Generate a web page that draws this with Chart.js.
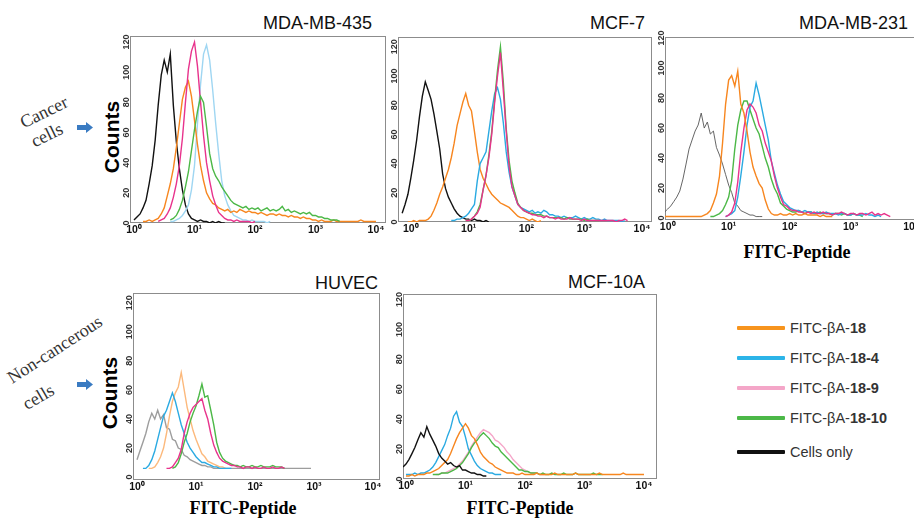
<!DOCTYPE html>
<html>
<head>
<meta charset="utf-8">
<script src="https://cdn.jsdelivr.net/npm/chart.js@4.4.1/dist/chart.umd.min.js"></script>
<style>
  html, body { margin: 0; padding: 0; background: #fff; }
  #fig { position: relative; width: 914px; height: 518px; overflow: hidden; background: #fff; }
  #fig canvas { position: absolute; }
  .title { position: absolute; font: 18px "Liberation Sans", Arial, sans-serif; line-height: 22px; color: #111; white-space: nowrap; }
  .counts { position: absolute; font: bold 21px "Liberation Sans", Arial, sans-serif; color: #000; white-space: nowrap;
            transform: translate(-50%, -50%) rotate(-90deg); }
  .xtitle { position: absolute; font: bold 18px "Liberation Serif", "Times New Roman", serif; color: #000; white-space: nowrap;
            transform: translate(-50%, -50%); }
  .note { position: absolute; font: 18px "Liberation Serif", "Times New Roman", serif; line-height: 18px; color: #333;
          white-space: nowrap; transform-origin: 0 50%; }
  .leg { position: absolute; font: 14.5px "Liberation Sans", Arial, sans-serif; color: #333; white-space: nowrap; line-height: 16px; }
  .leg b { font-weight: bold; }
  .legline { position: absolute; height: 3.5px; border-radius: 1px; }
</style>
</head>
<body>
<div id="fig">
  <div class="title" style="right:542px;top:12px">MDA-MB-435</div>
  <div class="title" style="right:269px;top:12px">MCF-7</div>
  <div class="title" style="right:6px;top:12px">MDA-MB-231</div>
  <div class="title" style="right:536px;top:272px">HUVEC</div>
  <div class="title" style="right:269px;top:271px">MCF-10A</div>

  <div class="counts" style="left:112px;top:137px">Counts</div>
  <div class="counts" style="left:110px;top:393px">Counts</div>

  <div class="xtitle" style="left:797px;top:252px">FITC-Peptide</div>
  <div class="xtitle" style="left:243px;top:508px">FITC-Peptide</div>
  <div class="xtitle" style="left:520px;top:508px">FITC-Peptide</div>

  <div class="note" style="left:21px;top:114px;transform:rotate(-26deg)">Cancer</div>
  <div class="note" style="left:32px;top:133px;transform:rotate(-26deg)">cells</div>
  <div class="note" style="left:9px;top:370px;transform:rotate(-33deg)">Non-cancerous</div>
  <div class="note" style="left:24px;top:396px;transform:rotate(-30deg)">cells</div>

  <svg style="position:absolute;left:77px;top:122px" width="16" height="11"><path d="M0 3 H9 V0 L16 5.5 L9 11 V8 H0 Z" fill="#3a7bc2"/></svg>
  <svg style="position:absolute;left:77px;top:379px" width="16" height="11"><path d="M0 3 H9 V0 L16 5.5 L9 11 V8 H0 Z" fill="#3a7bc2"/></svg>
</div>

<script>
const N = null;

// channel positions, 20 per decade from 10^-0.2 to 10^4
const bins = [0.631, 0.708, 0.794, 0.891,
  1, 1.12, 1.26, 1.41, 1.58, 1.78, 2.00, 2.24, 2.51, 2.82, 3.16, 3.55, 3.98, 4.47, 5.01, 5.62, 6.31, 7.08, 7.94, 8.91,
  10, 11.2, 12.6, 14.1, 15.8, 17.8, 20.0, 22.4, 25.1, 28.2, 31.6, 35.5, 39.8, 44.7, 50.1, 56.2, 63.1, 70.8, 79.4, 89.1,
  100, 112, 126, 141, 158, 178, 200, 224, 251, 282, 316, 355, 398, 447, 501, 562, 631, 708, 794, 891,
  1000, 1120, 1260, 1410, 1580, 1780, 2000, 2240, 2510, 2820, 3160, 3550, 3980, 4470, 5010, 5620, 6310, 7080, 7940, 8910,
  10000];

const xTicks = [1, 10, 100, 1000, 10000];
const xTickLabels = ['10\u2070', '10\u00b9', '10\u00b2', '10\u00b3', '10\u2074'];
const yTicks = [0, 20, 40, 60, 80, 100, 120];

// MDA-MB-435
const mda435Black = [N,N,N,N, 2,4,6,10,15,26,38,55,78,98,108,100,112,78,54,36,22,12,6,3,2,1,2,1,1,0,1,0,1,0,0];
const mda435Orange = [N,N,N,N,N,N,N, 1,1,2,1,2,3,6,
  10,18,26,36,50,66,82,90,94,84,68,52,38,28,20,16,13,12,10,9,
  8,9,7,8,7,9,8,7,8,7,7, 6,7,6,5,6,6,5,6,5,5, 4,5,4,4,3,4,3,3,2,2,
  1,2,1,1,1,2,1,1,1,1,1,1,1,1,2,1,1,1,1,1];
const mda435Pink = [N,N,N,N,N,N,N,N,N,N,N,N, 1,2,
  3,6,10,17,26,38,56,80,102,114,120,104,80,58,40,28,18,12,7,5,3,2, 2,1,2,1,1,1,1,0,1];
const mda435Blue = [N,N,N,N,N,N,N,N,N,N,N,N,N,N,N,N, 1,1,2,3,5,8,
  12,22,38,66,92,112,118,108,88,66,46,28,18,12,8,5,4,3, 2,2,1,2,1,1,1,1,0,1];
const mda435Green = [N,N,N,N,N,N,N,N,N,N,N,N,N,N,N,N,
  2,3,5,9,15,24,34,48,62,74, 84,80,64,46,36,31,28,24,21,18, 15,13,12,11,10,11,9,10,9,10,
  8,9,10,8,9,8,9,11,8,9, 7,8,7,6,7,6,7,5,5,4, 4,3,3,2,2,2,1];

// MCF-7
const mcf7Black = [N, 6,12,19,30,42,56,72,86,96,90,84,74,62,50,33,23,17,13,9,6,4,3,2,2,1,2,1,1,0,1,0];
const mcf7Orange = [N,N,N, 0,0,1,0,1,1,1,
  2,4,8,13,19,24,30,36,44,54, 66,74,82,88,80,76,62,48,36,30, 26,22,19,17,15,13,12,11,10,8, 6,4,3,3,2,1,2,1,0,1];
const mcf7Blue = [N,N,N,N,N,N,N,N,N,N,N,N,N,N,N,N,N,N, 1,1,2,2,3,4,6,9,
  12,28,40,44,48,62,76,88,92,84,68,48,34,24,18,12,10,9,
  8,7,8,6,7,6,8,7,5,5, 4,4,3,4,3,3,3,4,3,2, 3,2,2,3,2,2,1,2,1,1, 1,1,1,0,1];
const mcf7Pink = [N,N,N,N,N,N,N,N,N,N,N,N,N,N,N,N,N,N,N,N,N,N,N,
  1,1,2,4,6,10,22,32,44,60, 82,100,116,90,62,38,24,18,12,10, 8,7,6,5,5,4,4,3,4,3,
  3,2,3,2,2,2,3,2,2,2, 1,2,1,1,1,1,1,1,1,1, 1,1,0,1,1,2,1];
const mcf7Green = [N,N,N,N,N,N,N,N,N,N,N,N,N,N,N,N,N,N,N,N,N,N,N,
  1,1,2,4,7,12,22,32,46,62, 84,104,120,96,64,42,28,20,13,10, 8,7,6,6,5,5,5,4,4,3,
  3,3,3,3,2,3,2,2,2,2, 2,1,2,1,1,1,1];

// MDA-MB-231
const mda231Black = [N,N,N, 4,6,8,11,14,18,26,36,46,52, 58,62,70,60,64,56,58,47,42,36, 29,22,17,10,8,5,4,3,2,2, 1,1,1];
const mda231Orange = [N,N,N, 1,1,1,1,1,1,1,1,1,1,1,1,1,
  2,3,5,10,16,28,50,76,92,95,88,98,76,70,58,44,34,28,23,20,12,6,3,2,
  2,3,2,2,3,2,3,2,2,3,2,2,2,2,1,2,1,1,1];
const mda231Green = [N,N,N,N,N,N,N,N,N,N,N,N,N,N,N,N,N,N,
  1,1,2,3,5,9,14,25,46,62,72,78,78,72,66,60,56,48,40,34,26,20,16,10,8,6,5,
  4,4,5,4,3,4,4,3,3,4,3,3,3,2,3,3,2,3,2,2,3,2,2,1];
const mda231Blue = [N,N,N,N,N,N,N,N,N,N,N,N,N,N,N,N,N,N,N,N,N,N,N,
  1,2,3,5,14,28,44,62,74,78,90,82,72,62,52,38,30,22,16,11,9,7,
  6,5,5,4,5,4,4,3,4,3,3,4,3,3,3,2,3,3,2,2,3,2,2,2,3,2,2,1,2,1];
const mda231Pink = [N,N,N,N,N,N,N,N,N,N,N,N,N,N,N,N,N,N,N,N,N,N,N,
  1,2,4,10,24,44,60,72,76,74,70,62,58,50,44,38,28,20,14,9,8,6,
  5,5,4,4,3,4,3,4,3,3,4,3,3,2,3,3,4,3,2,3,3,2,3,3,2,3,4,2,3,2,3,2,1];

// HUVEC
const huvecBlack = [N,N,N,N,
  12,18,24,30,38,44,40,46,40,43,34,33,26,25,20,19,15,14,12,11,10,9,8,8,7,7,6,6,
  6,6,6,6,6,6,6,6,6,6,6,6,6,6,6,6,6,6,6,6,6,6,6,6,6,6,6,6,6,6,6,6];
const huvecBlue = [N,N,N,N,N,N,
  6,6,8,12,18,26,34,42,46,52,58,52,44,36,30,24,20,17,14,12,10,10,9,8,7,7,6,6,6,6,6];
const huvecOrange = [N,N,N,N,N,N,N,N,
  6,6,7,10,14,20,30,42,52,58,62,72,60,48,40,32,26,21,16,14,11,10,9,8,7,7,6];
const huvecPink = [N,N,N,N,N,N,N,N,N,N,N,N,N,N,
  6,6,7,10,13,19,30,38,44,48,50,52,54,46,40,30,22,17,13,11,10,9,8,8,7,
  7,6,7,7,6,7,6,6,7,6,6,7,6,6,7,6];
const huvecGreen = [N,N,N,N,N,N,N,N,N,N,N,N,N,N,N,N,
  6,7,10,16,24,30,38,44,49,56,64,55,56,46,36,24,17,13,11,10,9,8,8,
  7,8,7,7,8,7,7,8,7,7,7,8,7,7,7,6];

// MCF-10A
const mcf10aBlack = [N,N,N, 8,10,13,17,21,26,31,28,35,30,26,22,17,14,12,10,11,9,8,9,6,6,5,4,4,3,3,2,2];
const mcf10aBlue = [N,N,N,N, 3,3,3,4,3,4,4,5,6,8,11,15,19,23,29,34,42,45,38,35,28,20,16,12,9,7,6,5,4,4,3,3,3];
const mcf10aOrange = [N,N,N,N,
  2,2,3,2,3,3,3,4,4,5,6,7,9,11,13,17,22,27,31,34,37,34,29,27,23,18,15,13,11,10,8,7,6,5,4,4,4,3,3,4,3,
  3,3,3,4,3,3,3,3,3,4,3,3,3,3,3,3,4,3,3,3,3,3,3,3,4,3,3,3,3,3,3,3,4,3,3,3,3,3,3,3];
const mcf10aGreen = [N,N,N,N,N,N,N,N,N,N,N,N,N,
  3,3,3,4,4,4,5,6,7,9,11,14,17,21,24,26,29,31,29,27,24,22,21,18,16,14,12,10,8,6,6,5,
  5,4,4,4,3,4,3,3,4,3,3,3,4,3,3,3,4,3,3,3,3,3,4,3,3,3];
const mcf10aPink = [N,N,N,N,N,N,N,N,N,N,N,N,N,N,
  3,3,4,4,5,6,7,8,10,12,15,18,22,25,28,31,33,32,31,29,26,25,23,21,18,16,13,11,9,7,6,5,4,4,4,3,3,3];

// legend
const legendColors = ['#f7941d', '#2cb4e8', '#f4a6c8', '#4cb848', '#111111'];
const legendLabels = [['FITC-\u03b2A-', '18'], ['FITC-\u03b2A-', '18-4'], ['FITC-\u03b2A-', '18-9'], ['FITC-\u03b2A-', '18-10'], ['Cells only', '']];

const ORANGE = '#f7861f', BLUE = '#2aaae2', PINK = '#e8338c', GREEN = '#4cb847', BLACK = '#111111';

// frame = [left, top, right, bottom] of the plot box, xDec = visible decades
const panels = [
  { frame: [130, 36, 386, 223], xDec: [-0.066, 4.165], y: [0, 124],
    series: [[mda435Green, GREEN], [mda435Pink, PINK], [mda435Orange, ORANGE], [mda435Blue, '#9fd6f2'], [mda435Black, BLACK]] },
  { frame: [398, 37, 652, 222], xDec: [-0.207, 4.172], y: [0, 126.7],
    series: [[mcf7Pink, PINK], [mcf7Green, GREEN], [mcf7Blue, BLUE], [mcf7Orange, ORANGE], [mcf7Black, BLACK]] },
  { frame: [665, 37, 925, 220], xDec: [-0.044, 4.22], y: [-1.3, 120.7],
    series: [[mda231Orange, ORANGE], [mda231Pink, PINK], [mda231Blue, BLUE], [mda231Green, GREEN], [mda231Black, '#555555', 0.9]] },
  { frame: [133, 293, 380, 480], xDec: [-0.068, 4.119], y: [-2, 126.7],
    series: [[huvecPink, PINK], [huvecGreen, GREEN], [huvecBlue, BLUE], [huvecOrange, '#fcb97c'], [huvecBlack, '#9d9d9d']] },
  { frame: [403, 294, 657, 479], xDec: [-0.05, 4.218], y: [0, 123.7],
    series: [[mcf10aBlack, BLACK], [mcf10aOrange, ORANGE], [mcf10aGreen, GREEN], [mcf10aBlue, BLUE], [mcf10aPink, '#f5a6c9']] }
];

const framePlugin = {
  id: 'frame',
  beforeDatasetsDraw(chart) {
    const { ctx, chartArea: a } = chart;
    ctx.save();
    ctx.strokeStyle = '#8c8c8c';
    ctx.lineWidth = 1;
    ctx.strokeRect(Math.round(a.left) + 0.5, Math.round(a.top) + 0.5,
      Math.round(a.right - a.left) - 1, Math.round(a.bottom - a.top) - 1);
    ctx.restore();
  }
};

const PAD_TOP = 8, PAD_RIGHT = 4, AXIS_W = 16, AXIS_H = 16;

function makePanel(p) {
  const [l, t, r, b] = p.frame;
  const cv = document.createElement('canvas');
  cv.width = r - l + AXIS_W + PAD_RIGHT;
  cv.height = b - t + PAD_TOP + AXIS_H;
  cv.style.left = (l - AXIS_W) + 'px';
  cv.style.top = (t - PAD_TOP) + 'px';
  document.getElementById('fig').appendChild(cv);

  new Chart(cv, {
    type: 'line',
    data: {
      datasets: p.series.map(([vals, color, w]) => ({
        data: vals.map((v, j) => ({ x: bins[j], y: v })),
        borderColor: color,
        borderWidth: w || 1.4,
        pointRadius: 0,
        fill: false,
        tension: 0
      }))
    },
    options: {
      responsive: false,
      animation: false,
      devicePixelRatio: 1,
      layout: { padding: { top: PAD_TOP, right: PAD_RIGHT, left: 0, bottom: 0 } },
      plugins: { legend: { display: false }, tooltip: { enabled: false } },
      scales: {
        x: {
          type: 'logarithmic',
          min: Math.pow(10, p.xDec[0]),
          max: Math.pow(10, p.xDec[1]),
          afterBuildTicks: s => { s.ticks = xTicks.map(v => ({ value: v })); },
          afterFit: s => { s.height = AXIS_H; },
          grid: { display: false, drawTicks: false },
          border: { display: false },
          ticks: {
            autoSkip: false, maxRotation: 0, padding: 1, color: '#111',
            font: { family: 'Liberation Sans', size: 10.5, weight: 'bold' },
            callback: (v, i) => xTickLabels[i]
          }
        },
        y: {
          min: p.y[0],
          max: p.y[1],
          afterBuildTicks: s => { s.ticks = yTicks.map(v => ({ value: v })); },
          afterFit: s => { s.width = AXIS_W; },
          grid: { display: false, drawTicks: false },
          border: { display: false },
          ticks: {
            autoSkip: false, minRotation: 90, maxRotation: 90, crossAlign: 'center', padding: -4,
            color: '#333', font: { family: 'Liberation Sans', size: 9, weight: 'bold' }
          }
        }
      }
    },
    plugins: [framePlugin]
  });
}

panels.forEach(makePanel);

// shared legend
const fig = document.getElementById('fig');
const legendY = [328, 358, 388, 418, 452];
legendLabels.forEach(([plain, bold], i) => {
  const line = document.createElement('div');
  line.className = 'legline';
  line.style.cssText = `left:737px;top:${legendY[i] - 1.75}px;width:48px;background:${legendColors[i]}`;
  fig.appendChild(line);
  const txt = document.createElement('div');
  txt.className = 'leg';
  txt.style.cssText = `left:790px;top:${legendY[i] - 8}px`;
  txt.innerHTML = plain + (bold ? '<b>' + bold + '</b>' : '');
  fig.appendChild(txt);
});
</script>
</body>
</html>
